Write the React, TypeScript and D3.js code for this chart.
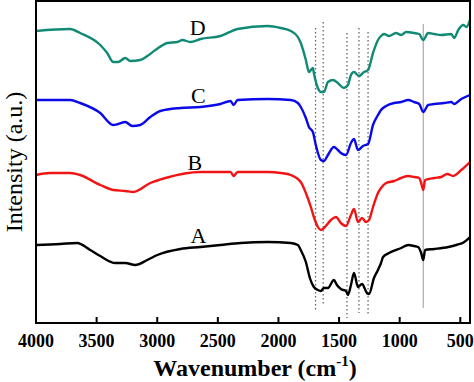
import React from "react";
import * as d3 from "d3";

// Series data: wavenumber (cm-1) and intensity (a.u., offset-stacked)
const wnA = [4000, 3801, 3661, 3553, 3470, 3346, 3264, 3181, 3082, 2999, 2809, 2643, 2478, 2312, 2089, 1898, 1840, 1816, 1774, 1741, 1708, 1675, 1650, 1625, 1592, 1543, 1518, 1485, 1443, 1427, 1402, 1377, 1344, 1311, 1270, 1253, 1212, 1179, 1154, 1137, 1088, 988, 930, 881, 848, 823, 806, 790, 715, 599, 533, 467, 420];
const intA = [78, 79, 80, 73, 67, 60, 60, 58, 63, 68, 74, 76, 78, 80, 81, 80, 78, 73, 61, 45, 36, 33, 32, 35, 35, 43, 38, 34, 32, 28, 38, 50, 36, 39, 30, 29, 45, 53, 60, 66, 70, 75, 78, 77, 76, 70, 63, 73, 74, 76, 78, 81, 86];

const wnB = [4000, 3884, 3719, 3636, 3470, 3363, 3264, 3197, 3057, 2933, 2643, 2395, 2370, 2337, 2089, 1981, 1898, 1816, 1774, 1733, 1708, 1675, 1650, 1625, 1567, 1526, 1485, 1443, 1402, 1377, 1344, 1311, 1278, 1253, 1220, 1179, 1154, 1112, 1046, 988, 930, 881, 839, 823, 806, 790, 715, 657, 608, 558, 492, 420];
const intB = [148, 150, 150, 148, 138, 133, 132, 131, 140, 145, 151, 151, 147, 151, 151, 150, 148, 141, 130, 116, 106, 96, 93, 95, 103, 106, 100, 97, 108, 114, 101, 105, 101, 103, 116, 130, 135, 140, 142, 145, 147, 146, 145, 140, 133, 143, 145, 146, 149, 147, 153, 161];

const wnC = [4000, 3719, 3636, 3470, 3363, 3322, 3264, 3206, 3140, 3057, 2974, 2809, 2643, 2478, 2395, 2370, 2337, 2089, 1898, 1840, 1816, 1774, 1749, 1716, 1692, 1650, 1625, 1592, 1543, 1510, 1485, 1443, 1402, 1377, 1344, 1303, 1261, 1220, 1179, 1154, 1112, 1046, 988, 930, 881, 839, 806, 765, 715, 633, 575, 550, 492, 420];
const intC = [223, 223, 220, 210, 198, 199, 201, 197, 198, 206, 212, 215, 216, 219, 222, 218, 223, 224, 223, 220, 216, 205, 196, 191, 178, 163, 162, 168, 176, 173, 170, 168, 180, 184, 173, 177, 179, 198, 208, 213, 217, 220, 221, 223, 221, 219, 211, 218, 219, 220, 221, 219, 224, 228];

const wnD = [4000, 3719, 3636, 3470, 3413, 3363, 3322, 3264, 3222, 3140, 3082, 3015, 2916, 2833, 2792, 2726, 2643, 2478, 2337, 2089, 1981, 1898, 1840, 1816, 1774, 1749, 1716, 1708, 1675, 1650, 1625, 1592, 1550, 1510, 1460, 1427, 1402, 1377, 1336, 1294, 1261, 1220, 1179, 1154, 1129, 1088, 1030, 988, 947, 881, 839, 806, 765, 715, 657, 575, 550, 517, 475, 450, 420];
const intD = [292, 294, 290, 278, 270, 261, 261, 265, 262, 263, 267, 273, 280, 281, 283, 281, 284, 287, 294, 297, 295, 292, 286, 280, 263, 251, 255, 250, 235, 231, 231, 241, 243, 240, 235, 238, 248, 251, 247, 251, 253, 270, 283, 287, 289, 287, 290, 288, 291, 290, 289, 283, 290, 289, 288, 289, 285, 293, 298, 296, 303];

const seriesNames = ["A", "B", "C", "D"];
const seriesColors = ["#000000", "#f01414", "#0a0ae8", "#108a74"];

// Reference lines (dotted) at band positions, with their extents in intensity units
const dottedWn = [1694, 1631, 1435, 1336, 1261];
const dottedTop = [295, 301, 290, 295, 291];
const dottedBottom = [11, 17, 5, 10, 8];
const solidWn = [806];
const solidTop = [299];
const solidBottom = [15];

const xTicks = [4000, 3500, 3000, 2500, 2000, 1500, 1000, 500];

// label anchors in data units
const labelWn = [2660, 2690, 2660, 2667];
const labelInt = [80, 153, 220, 288];

const W = 474;
const H = 382;
const left = 36;
const right = 470;
const top = 1;
const bottom = 323;

export default function App() {
  const x = d3.scaleLinear().domain([4000, 420]).range([left, right]);
  const y = d3.scaleLinear().domain([0, 322]).range([bottom, top]);
  const line = d3
    .line<[number, number]>()
    .x((d) => x(d[0]))
    .y((d) => y(d[1]))
    .curve(d3.curveMonotoneX);

  const series = [
    d3.zip(wnA, intA),
    d3.zip(wnB, intB),
    d3.zip(wnC, intC),
    d3.zip(wnD, intD),
  ] as [number, number][][];

  const font = "'Liberation Serif', 'Times New Roman', serif";

  return (
    <svg
      width={W}
      height={H}
      style={{ position: "absolute", left: 0, top: 0, background: "#fff" }}
    >
      <defs>
        <clipPath id="plotclip">
          <rect x={left} y={top} width={right - left} height={bottom - top} />
        </clipPath>
      </defs>
      <rect x={0} y={0} width={W} height={H} fill="#fff" />
      {/* reference lines */}
      {dottedWn.map((w, i) => (
        <line
          key={"d" + i}
          x1={x(w)}
          x2={x(w)}
          y1={y(dottedTop[i])}
          y2={y(dottedBottom[i])}
          stroke="#666"
          strokeWidth={1.3}
          strokeDasharray="1.5,2.5"
        />
      ))}
      {solidWn.map((w, i) => (
        <line
          key={"s" + i}
          x1={x(w)}
          x2={x(w)}
          y1={y(solidTop[i])}
          y2={y(solidBottom[i])}
          stroke="#999"
          strokeWidth={1}
        />
      ))}
      <g clipPath="url(#plotclip)">
        {series.map((s, i) => (
          <path
            key={i}
            d={line(s) || ""}
            fill="none"
            stroke={seriesColors[i]}
            strokeWidth={2.4}
            strokeLinejoin="round"
          />
        ))}
      </g>
      {seriesNames.map((n, i) => (
        <text
          key={n}
          x={x(labelWn[i])}
          y={y(labelInt[i])}
          textAnchor="middle"
          fontFamily={font}
          fontSize={22}
          fill="#000"
        >
          {n}
        </text>
      ))}
      {/* frame */}
      <rect
        x={left}
        y={top}
        width={right - left}
        height={bottom - top}
        fill="none"
        stroke="#000"
        strokeWidth={2}
      />
      {/* ticks */}
      {xTicks.map((t) => (
        <g key={t}>
          <line x1={x(t)} x2={x(t)} y1={bottom} y2={bottom - 6} stroke="#000" strokeWidth={2} />
          <text
            x={x(t)}
            y={347}
            textAnchor="middle"
            fontFamily={font}
            fontWeight="bold"
            fontSize={18}
            fill="#000"
          >
            {t}
          </text>
        </g>
      ))}
      <text
        x={255}
        y={376}
        textAnchor="middle"
        fontFamily={font}
        fontWeight="bold"
        fontSize={24}
        fill="#000"
      >
        Wavenumber (cm
        <tspan fontSize={15} dy={-10}>-1</tspan>
        <tspan dy={10}>)</tspan>
      </text>
      <text
        transform={`translate(22,162) rotate(-90)`}
        textAnchor="middle"
        fontFamily={font}
        fontSize={24}
        fill="#000"
      >
        Intensity (a.u.)
      </text>
    </svg>
  );
}
